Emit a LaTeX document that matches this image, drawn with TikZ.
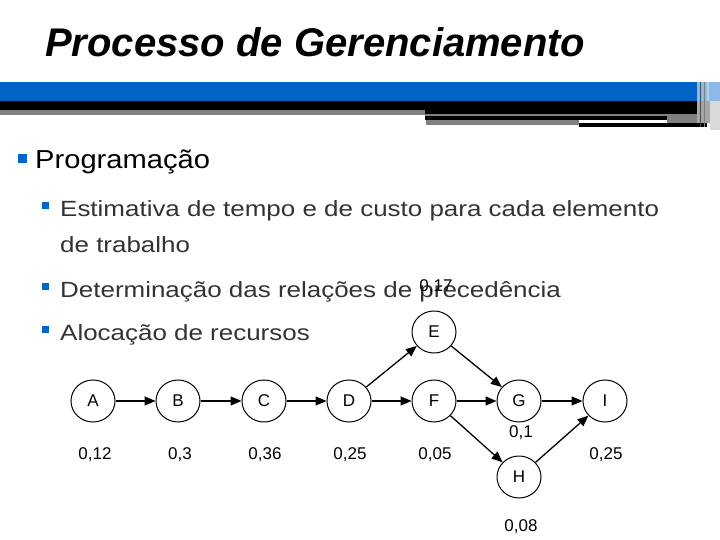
\documentclass[tikz,border=0pt]{standalone}
\usepackage{fontspec}
\setmainfont{Liberation Sans}
\usetikzlibrary{shapes.geometric,arrows.meta}
\definecolor{bandblue}{HTML}{0063C6}
\definecolor{bulletblue}{HTML}{0066CC}
\definecolor{txtgray}{HTML}{333333}
\newcommand{\wider}[1]{\scalebox{1.18}[1]{#1}}
\begin{document}
\begin{tikzpicture}[x=1pt,y=-1pt,
  job/.style={draw,ellipse,line width=1pt,minimum width=44pt,minimum height=42pt,inner sep=0pt,font=\fontsize{17}{19}\selectfont},
  lbl/.style={font=\fontsize{17}{19}\selectfont,inner sep=0pt},
  arr/.style={line width=1.3pt,-{Triangle[length=11pt,width=9pt]}},
  bul/.style={fill=bulletblue,draw=none},
  sub/.style={anchor=base west,inner sep=0pt,text=txtgray,font=\fontsize{22}{26}\selectfont}]
\useasboundingbox (0,0) rectangle (720,540);
% title
\node[anchor=base west,inner sep=0pt,font=\fontsize{40}{48}\selectfont\bfseries\itshape] (title) at (45,57) {Processo de Gerenciamento};
% band
\fill[bandblue] (0,82) rectangle (697,101);
\fill[black] (0,101) rectangle (697,110);
\fill[black] (425,110) rectangle (697,114);
\fill[gray] (0,110) rectangle (425,115);
\fill[gray] (425,114) rectangle (697,116);
\fill[black] (425,116) rectangle (667,120);
\fill[gray] (667,116) rectangle (697,124);
\fill[gray] (426,120) rectangle (579,125);
\fill[black] (579,123) rectangle (707,127);
\fill[bandblue!45] (697,82) rectangle (720,101);
\fill[gray!70] (697,101) rectangle (720,123);
\fill[gray!30] (710,101) rectangle (720,130);
\fill[black!70] (700,82) rectangle (701,127);
\fill[black!50] (704,82) rectangle (705,127);
\fill[white!70!bandblue] (707,82) rectangle (709,101);
% bullets
\fill[bul] (18,154) rectangle (27,163);
\node[anchor=base west,inner sep=0pt,font=\fontsize{26}{30}\selectfont] (p1) at (35,169) {\scalebox{1.12}[1]{Programação}};
\fill[bul] (42,202) rectangle (49,209);
\node[sub] (s1) at (60,216) {\wider{Estimativa de tempo e de custo para cada elemento}};
\node[sub] (s1b) at (60,252) {\wider{de trabalho}};
\fill[bul] (42,283) rectangle (49,290);
\node[sub] (s2) at (60,297) {\wider{Determinação das relações de precedência}};
\fill[bul] (42,326) rectangle (49,333);
\node[sub] (s3) at (60,340) {\wider{Alocação de recursos}};
% network
\node[job] (A) at (93,401) {A};
\node[job] (B) at (178,401) {B};
\node[job] (C) at (264,401) {C};
\node[job] (D) at (349,401) {D};
\node[job] (E) at (434,332) {E};
\node[job] (F) at (434,401) {F};
\node[job] (G) at (519,401) {G};
\node[job] (H) at (519,477) {H};
\node[job] (I) at (605,401) {I};
\draw[arr] (A) -- (B);
\draw[arr] (B) -- (C);
\draw[arr] (C) -- (D);
\draw[arr] (D) -- (F);
\draw[arr] (F) -- (G);
\draw[arr] (G) -- (I);
\draw[arr] (D) -- (E);
\draw[arr] (E) -- (G);
\draw[arr] (F) -- (H);
\draw[arr] (H) -- (I);
\node[lbl] (la) at (95,455) {0,12};
\node[lbl] (lb) at (180,455) {0,3};
\node[lbl] (lc) at (265,455) {0,36};
\node[lbl] (ld) at (350,455) {0,25};
\node[lbl] (lf) at (435,455) {0,05};
\node[lbl] (lg) at (521,433) {0,1};
\node[lbl] (li) at (606,455) {0,25};
\node[lbl] (lh) at (521,527) {0,08};
\node[lbl] (le) at (436,287) {0,17};
\end{tikzpicture}
\end{document}
